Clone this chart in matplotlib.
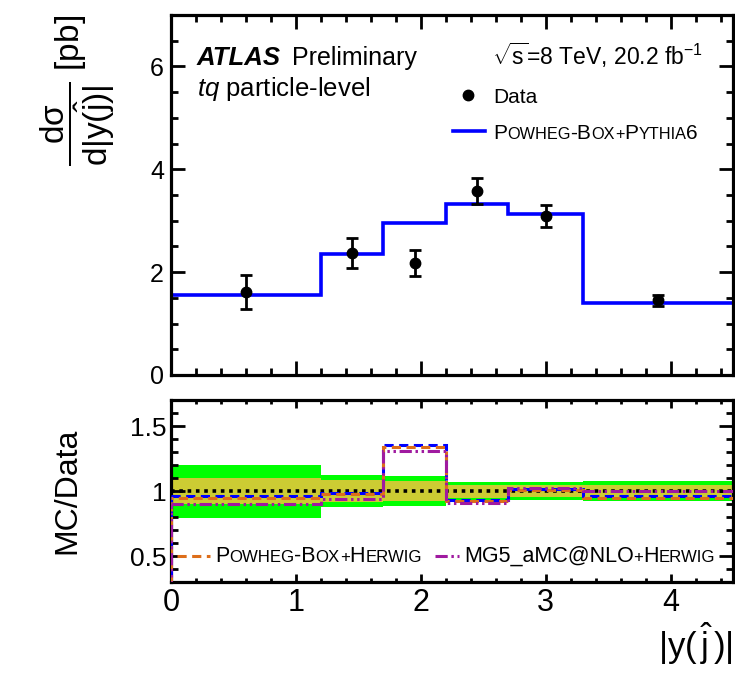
import numpy as np
import matplotlib
matplotlib.use('Agg')
import matplotlib.pyplot as plt
import matplotlib.transforms as mtransforms
from matplotlib.ticker import MultipleLocator

plt.rcParams['font.family'] = 'Liberation Sans'
plt.rcParams['mathtext.fontset'] = 'custom'
plt.rcParams['mathtext.rm'] = 'Liberation Sans'
plt.rcParams['mathtext.it'] = 'Liberation Sans:italic'
plt.rcParams['mathtext.bf'] = 'Liberation Sans:bold'

# |y(j)| binning and unfolded cross-section
bin_edges = [0, 1.2, 1.7, 2.2, 2.7, 3.3, 4.5]
bin_centres = [0.6, 1.45, 1.95, 2.45, 3.0, 3.9]
data_xsec = [1.62, 2.38, 2.18, 3.58, 3.09, 1.45]
data_err = [0.33, 0.29, 0.25, 0.26, 0.21, 0.11]
stat_rel = [0.10, 0.085, 0.08, 0.05, 0.045, 0.045]

# predictions
powheg_py6 = [1.56, 2.35, 2.95, 3.32, 3.14, 1.40]
ratio_powheg_hw = [0.95, 0.98, 1.34, 0.92, 1.01, 0.945]
ratio_mg5_hw = [0.90, 0.935, 1.31, 0.905, 1.02, 1.0]

c_blue = '#0000ff'
c_green = '#00ff00'
c_yellow = '#cccc33'
c_orange = '#dd6e1a'
c_purple = '#a01aa0'
ls_blue = (0, (3, 1.8))
ls_orange = (2.4, (3, 1.8))
ls_purple = (0, (4, 1.2, 0.8, 1.2, 0.8, 1.2))


def caps_text(ax, x, y, parts, size, **kw):
    # ROOT-style small caps: chain pieces of different size on one baseline
    fig = ax.figure
    r = fig.canvas.get_renderer()
    dx = 0.0
    for s, f in parts:
        tr = mtransforms.offset_copy(ax.transAxes, fig=fig, x=dx, y=0, units='dots')
        t = ax.text(x, y, s, transform=tr, fontsize=size * f, va='baseline', ha='left', **kw)
        dx += t.get_window_extent(r).width


def hist_line(ax, values, edges, base, **kw):
    # histogram outline, dropping to the baseline only at the first edge
    ax.stairs(values, edges, baseline=None, **kw)
    ax.vlines(edges[0], base, values[0], **kw)


fig = plt.figure(figsize=(7.35, 6.77), dpi=100)
ax1 = fig.add_axes([0.2327, 0.4461, 0.7646, 0.5317])
ax2 = fig.add_axes([0.2327, 0.1403, 0.7646, 0.2688])

edges = np.array(bin_edges)
data = np.array(data_xsec)
err = np.array(data_err)

# ---- top panel
hist_line(ax1, powheg_py6, edges, 0, color=c_blue, lw=2.6, zorder=2)
ax1.errorbar(bin_centres, data, yerr=err, fmt='o', color='black', ms=7.5,
             elinewidth=2, capsize=4.5, capthick=2, zorder=3)
ax1.set_xlim(0, 4.5)
ax1.set_ylim(0, 7)
ax1.yaxis.set_major_locator(MultipleLocator(2))
ax1.yaxis.set_minor_locator(MultipleLocator(0.5))
ax1.xaxis.set_major_locator(MultipleLocator(1))
ax1.xaxis.set_minor_locator(MultipleLocator(0.2))
ax1.tick_params(axis='x', labelbottom=False)
ax1.tick_params(axis='y', labelsize=18, pad=5)
ax1.set_ylabel(r'$\dfrac{\mathrm{dσ}}{\mathrm{d}|\mathrm{y}(\hat{\mathrm{j}})|}$ [pb]',
               fontsize=24, loc='top')
ax1.yaxis.set_label_coords(-0.096, 1.0)

ax1.text(0.046, 0.861, 'ATLAS', transform=ax1.transAxes, fontsize=18.5, va='baseline',
         fontweight='bold', fontstyle='italic')
ax1.text(0.215, 0.861, 'Preliminary', transform=ax1.transAxes, fontsize=18, va='baseline')
ax1.text(0.046, 0.775, r'$\it{tq}$ particle-level', transform=ax1.transAxes,
         fontsize=18.5, va='baseline')
ax1.text(0.947, 0.861, r'$\sqrt{\mathrm{s}}$=8 TeV, 20.2 fb$^{-1}$', transform=ax1.transAxes,
         fontsize=16.5, va='baseline', ha='right')

# legend
ax1.plot([0.528], [0.778], 'o', color='black', ms=7.5, transform=ax1.transAxes)
ax1.text(0.573, 0.756, 'Data', transform=ax1.transAxes, fontsize=15, va='baseline')
ax1.plot([0.502, 0.559], [0.678, 0.678], color=c_blue, lw=2.6, transform=ax1.transAxes)
caps_text(ax1, 0.573, 0.656,
          [('P', 1), ('OWHEG', 0.78), ('-B', 1), ('OX', 0.78), ('+', 0.78),
           ('P', 1), ('YTHIA', 0.78), ('6', 1)], 15)

# ---- ratio panel
tot_rel = err / data
ax2.stairs(1 + tot_rel, edges, baseline=1 - tot_rel, fill=True, color=c_green, lw=0, zorder=1)
stat = np.array(stat_rel)
ax2.stairs(1 + stat, edges, baseline=1 - stat, fill=True, color=c_yellow, lw=0, zorder=1)
ax2.axhline(1, color='black', ls=(0, (1, 1.3)), lw=2.6, zorder=2)

ratio_py6 = np.array(powheg_py6) / data
hist_line(ax2, ratio_py6, edges, 0, color=c_blue, lw=2.2, ls=ls_blue, zorder=3)
hist_line(ax2, ratio_powheg_hw, edges, 0, color=c_orange, lw=2.2, ls=ls_orange, zorder=4)
hist_line(ax2, ratio_mg5_hw, edges, 0, color=c_purple, lw=2.2, ls=ls_purple, zorder=5)

ax2.set_xlim(0, 4.5)
ax2.set_ylim(0.3, 1.7)
ax2.yaxis.set_major_locator(MultipleLocator(0.5))
ax2.yaxis.set_minor_locator(MultipleLocator(0.1))
ax2.yaxis.set_major_formatter(lambda v, p: f'{v:g}')
ax2.xaxis.set_major_locator(MultipleLocator(1))
ax2.xaxis.set_minor_locator(MultipleLocator(0.2))
ax2.tick_params(axis='y', labelsize=19, pad=3)
ax2.tick_params(axis='x', labelsize=22, pad=4)
ax2.set_ylabel('MC/Data', fontsize=23)
ax2.yaxis.set_label_coords(-0.158, 0.5)
ax2.set_xlabel(r'$|\mathrm{y}(\,\hat{\mathrm{j}}\,)|$', fontsize=25, loc='right')
ax2.xaxis.set_label_coords(1.0, -0.21)

ax2.plot([0.011, 0.069], [0.143, 0.143], color=c_orange, lw=2.2, ls=ls_blue,
         transform=ax2.transAxes)
caps_text(ax2, 0.078, 0.110,
          [('P', 1), ('OWHEG', 0.78), ('-B', 1), ('OX', 0.78), ('+', 0.78),
           ('H', 1), ('ERWIG', 0.78)], 15.5)
ax2.plot([0.470, 0.512], [0.143, 0.143], color=c_purple, lw=2.2, ls=ls_purple,
         transform=ax2.transAxes)
caps_text(ax2, 0.521, 0.110,
          [('MG5_aMC@NLO', 1), ('+', 0.78), ('H', 1), ('ERWIG', 0.78)], 15.5)

for ax in (ax1, ax2):
    ax.tick_params(which='both', direction='in', top=True, right=True, width=2)
    ax.tick_params(which='major', length=10)
    ax.tick_params(which='minor', length=5)
    for sp in ax.spines.values():
        sp.set_linewidth(2.3)
ax2.tick_params(axis='x', which='major', length=6)
ax2.tick_params(axis='x', which='minor', length=3)

fig.savefig('out.png', dpi=100)
